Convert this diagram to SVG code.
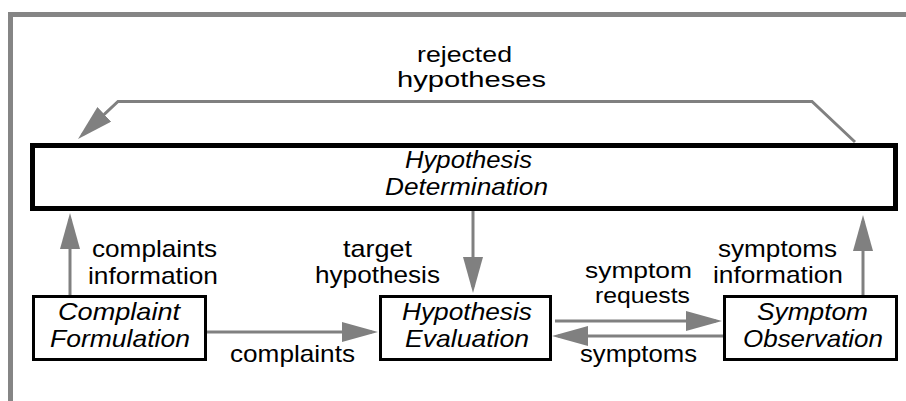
<svg xmlns="http://www.w3.org/2000/svg" width="906" height="401" viewBox="0 0 906 401">
<style>
  .bg { fill: #ffffff; }
  .frame { fill: none; stroke: #858585; stroke-width: 5; }
  .node { fill: #ffffff; stroke: #000000; stroke-width: 3; }
  .main { fill: #ffffff; stroke: #000000; stroke-width: 5; }
  .edge { fill: none; stroke: #808080; stroke-width: 3; marker-end: url(#arrow); }
  text { font-family: "Liberation Sans", Arial, Helvetica, sans-serif; font-size: 24px; fill: #000000; }
  .sm { font-size: 22px; }
  .it { font-style: italic; }
</style>
<defs>
  <marker id="arrow" markerUnits="userSpaceOnUse" markerWidth="36" markerHeight="20" viewBox="0 0 36 20" refX="30" refY="10" orient="auto">
    <path d="M0,0 L36,10 L0,20 z" fill="#808080"/>
  </marker>
</defs>
<rect class="bg" x="0" y="0" width="906" height="401"/>
<path class="frame" d="M10.5,401 V14.5 H906"/>

<g id="connectors">
  <path id="e-rejected" class="edge" d="M855,142 L812,101.5 L118,101.5 L82.4,134.9"/>
  <path id="e-complaints-info" class="edge" d="M70,295 V219"/>
  <path id="e-complaints" class="edge" d="M207,332 H372"/>
  <path id="e-target" class="edge" d="M473,211 V287"/>
  <path id="e-requests" class="edge" d="M555,321 H716"/>
  <path id="e-symptoms" class="edge" d="M723,336 H558"/>
  <path id="e-symptoms-info" class="edge" d="M863,296 V221"/>
  <g id="edge-labels">
    <text class="sm" x="417" y="62" textLength="95" lengthAdjust="spacingAndGlyphs">rejected</text>
    <text class="sm" x="397" y="87" textLength="149" lengthAdjust="spacingAndGlyphs">hypotheses</text>
    <text x="92" y="257" textLength="125" lengthAdjust="spacingAndGlyphs">complaints</text>
    <text x="88" y="284" textLength="130" lengthAdjust="spacingAndGlyphs">information</text>
    <text x="343" y="257" textLength="69" lengthAdjust="spacingAndGlyphs">target</text>
    <text x="315" y="283" textLength="125" lengthAdjust="spacingAndGlyphs">hypothesis</text>
    <text x="230" y="362" textLength="125" lengthAdjust="spacingAndGlyphs">complaints</text>
    <text class="sm" x="585" y="278" textLength="107" lengthAdjust="spacingAndGlyphs">symptom</text>
    <text class="sm" x="595" y="303" textLength="95" lengthAdjust="spacingAndGlyphs">requests</text>
    <text x="580" y="362" textLength="117" lengthAdjust="spacingAndGlyphs">symptoms</text>
    <text x="718" y="257" textLength="119" lengthAdjust="spacingAndGlyphs">symptoms</text>
    <text x="713" y="283" textLength="130" lengthAdjust="spacingAndGlyphs">information</text>
  </g>
</g>

<g id="hypothesis-determination">
  <rect class="main" x="32.5" y="145.5" width="863" height="63"/>
  <text class="it" x="405" y="168" textLength="127" lengthAdjust="spacingAndGlyphs">Hypothesis</text>
  <text class="it" x="385" y="195" textLength="163" lengthAdjust="spacingAndGlyphs">Determination</text>
</g>

<g id="complaint-formulation">
  <rect class="node" x="33.5" y="296.5" width="172" height="63"/>
  <text class="it" x="58" y="320" textLength="122" lengthAdjust="spacingAndGlyphs">Complaint</text>
  <text class="it" x="50" y="347" textLength="140" lengthAdjust="spacingAndGlyphs">Formulation</text>
</g>

<g id="hypothesis-evaluation">
  <rect class="node" x="380.5" y="296.5" width="170" height="63"/>
  <text class="it" x="402" y="320" textLength="130" lengthAdjust="spacingAndGlyphs">Hypothesis</text>
  <text class="it" x="405" y="347" textLength="124" lengthAdjust="spacingAndGlyphs">Evaluation</text>
</g>

<g id="symptom-observation">
  <rect class="node" x="724.5" y="296.5" width="172" height="63"/>
  <text class="it" x="757" y="320" textLength="111" lengthAdjust="spacingAndGlyphs">Symptom</text>
  <text class="it" x="743" y="347" textLength="140" lengthAdjust="spacingAndGlyphs">Observation</text>
</g>
</svg>
